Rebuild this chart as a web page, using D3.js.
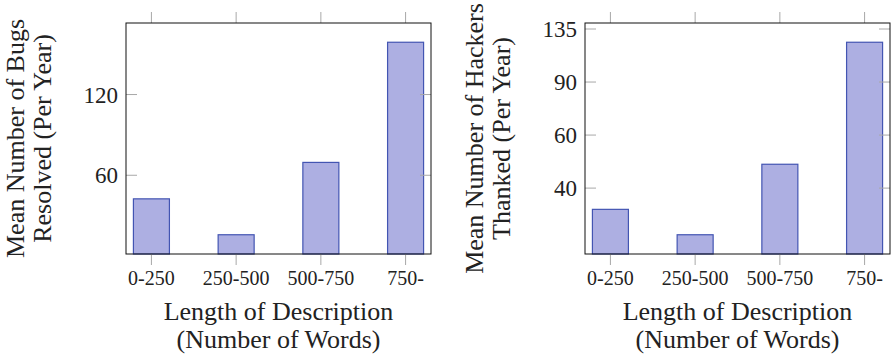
<!DOCTYPE html>
<html>
<head>
<meta charset="utf-8">
<script src="https://cdn.jsdelivr.net/npm/d3@7"></script>
<style>
  body { margin: 0; background: #fff; }
  text { font-family: "Liberation Serif", "DejaVu Serif", serif; fill: #222; }
</style>
</head>
<body>
<div id="charts"></div>
<script>
// categories shared by both panels
var lengthBins = ["0-250", "250-500", "500-750", "750-"];

// values (both y axes are logarithmic)
var bugsResolved = [49, 36, 67, 188];
var hackersThanked = [34, 28, 48, 122];

// y tick values
var bugsTicks = [60, 120];
var hackersTicks = [40, 60, 90, 135];

var xLabel = ["Length of Description", "(Number of Words)"];
var bugsLabel = ["Mean Number of Bugs", "Resolved (Per Year)"];
var hackersLabel = ["Mean Number of Hackers", "Thanked (Per Year)"];

var width = 893, height = 360;

var svg = d3.select("#charts")
  .append("svg")
  .attr("width", width)
  .attr("height", height);

//log domain enlarged by 10% on each side, like pgfplots does
function enlargedLog(values) {
  var lo = Math.log(d3.min(values)), hi = Math.log(d3.max(values));
  var pad = (hi - lo) * 0.1;
  return [Math.exp(lo - pad), Math.exp(hi + pad)];
}

function panel(left, values, ticks, ylab) {
  var top = 23, bottom = 254, right = left + 305;

  var x = d3.scalePoint()
    .domain(lengthBins)
    .range([left, right])
    .padding(0.3);

  var y = d3.scaleLog()
    .domain(enlargedLog(values))
    .range([bottom, top]);

  var g = svg.append("g");

  // bars
  g.selectAll("rect.bar")
    .data(values)
    .enter().append("rect")
    .attr("class", "bar")
    .attr("x", function(d, i) { return x(lengthBins[i]) - 18; })
    .attr("y", function(d) { return y(d); })
    .attr("width", 36)
    .attr("height", function(d) { return bottom - y(d); })
    .attr("fill", "#adafe2")
    .attr("stroke", "#4355b2")
    .attr("stroke-width", 1.2);

  // x ticks, outside top and bottom
  lengthBins.forEach(function(c) {
    g.append("line")
      .attr("x1", x(c)).attr("x2", x(c))
      .attr("y1", top - 11).attr("y2", top)
      .attr("stroke", "#a8a8a8");
    g.append("line")
      .attr("x1", x(c)).attr("x2", x(c))
      .attr("y1", bottom).attr("y2", bottom + 11)
      .attr("stroke", "#a8a8a8");
  });

  // y ticks, inside left and right
  ticks.forEach(function(t) {
    g.append("line")
      .attr("x1", left).attr("x2", left + 11)
      .attr("y1", y(t)).attr("y2", y(t))
      .attr("stroke", "#a8a8a8");
    g.append("line")
      .attr("x1", right - 11).attr("x2", right)
      .attr("y1", y(t)).attr("y2", y(t))
      .attr("stroke", "#a8a8a8");
  });

  // box
  g.append("rect")
    .attr("x", left).attr("y", top)
    .attr("width", right - left).attr("height", bottom - top)
    .attr("fill", "none")
    .attr("stroke", "#111")
    .attr("stroke-width", 1);

  // tick labels
  g.selectAll("text.xt")
    .data(lengthBins)
    .enter().append("text")
    .attr("class", "xt")
    .attr("x", function(d) { return x(d); })
    .attr("y", 285)
    .attr("text-anchor", "middle")
    .attr("font-size", 20)
    .text(function(d) { return d; });

  g.selectAll("text.yt")
    .data(ticks)
    .enter().append("text")
    .attr("class", "yt")
    .attr("x", left - 8)
    .attr("y", function(d) { return y(d); })
    .attr("dy", "0.35em")
    .attr("text-anchor", "end")
    .attr("font-size", 23)
    .text(function(d) { return d; });

  // axis labels
  var cx = (left + right) / 2;
  xLabel.forEach(function(s, i) {
    g.append("text")
      .attr("x", cx)
      .attr("y", 320 + i * 28)
      .attr("text-anchor", "middle")
      .attr("font-size", 26)
      .text(s);
  });

  var cy = (top + bottom) / 2;
  ylab.forEach(function(s, i) {
    var bx = left - 102 + i * 27;
    g.append("text")
      .attr("transform", "translate(" + bx + "," + cy + ") rotate(-90)")
      .attr("text-anchor", "middle")
      .attr("font-size", 26)
      .text(s);
  });
}

panel(126, bugsResolved, bugsTicks, bugsLabel);
panel(585, hackersThanked, hackersTicks, hackersLabel);
</script>
</body>
</html>
